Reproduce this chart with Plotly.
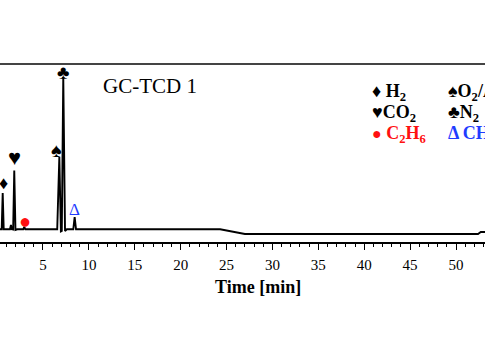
import plotly.graph_objects as go

# Chromatogram trace (time in min, detector signal in arbitrary units)
time = [0.30, 0.50, 0.61, 0.72, 1.40, 1.51, 1.60, 1.75, 1.87, 2.00, 2.20,
        2.85, 2.96, 3.08, 6.55, 6.78, 6.95, 7.05, 7.21, 7.40, 7.60,
        8.30, 8.45, 8.60, 24.3, 27.0, 52.4, 52.7, 53.5]
signal = [12.8, 12.8, 49.0, 12.8, 12.8, 17.0, 12.8, 12.5, 71.5, 12.0, 12.7,
          12.7, 15.0, 12.7, 12.7, 85.0, 10.5, 11.0, 165.0, 11.0, 12.7,
          12.7, 25.0, 12.7, 12.7, 8.0, 8.0, 10.0, 10.0]

# Peak identification
peak_times = [0.61, 1.87, 3.04, 6.78, 7.21, 8.45]
peak_heights = [49.0, 71.5, 15.0, 85.0, 165.0, 25.0]
peak_symbols = ["♦", "♥", "●", "♠", "♣", "Δ"]
peak_colors = ["black", "black", "#ff1010", "black", "black", "#1f3cff"]

legend_col1 = ["♦ <b>H<sub>2</sub></b>", "♥<b>CO<sub>2</sub></b>",
               "<span style='font-size:16px'>●</span> <b>C<sub>2</sub>H<sub>6</sub></b>"]
legend_col2 = ["♠<b>O<sub>2</sub>/Ar</b>", "♣<b>N<sub>2</sub></b>", "<b>Δ CH<sub>4</sub></b>"]
legend_col1_colors = ["black", "black", "#ff1010"]
legend_col2_colors = ["black", "black", "#1f3cff"]

SERIF = "Liberation Serif, Times New Roman, serif"
W, H = 485, 360
TOP, BOT = 64, 242

fig = go.Figure()
fig.add_trace(go.Scatter(x=time, y=signal, mode="lines",
                         line=dict(color="black", width=1.9), hoverinfo="skip"))

offsets = [10, 13, 6, 7, 5, 8]
xshifts = [1, 0, 0, -3, 0, 0]
sizes = [18, 22, 20, 20, 19, 17]
for t, h, s, c, o, xs, fs in zip(peak_times, peak_heights, peak_symbols, peak_colors,
                                 offsets, xshifts, sizes):
    fig.add_annotation(x=t, y=h, xref="x", yref="y", text=s, showarrow=False,
                       yshift=o, xshift=xs, yanchor="middle",
                       font=dict(family=SERIF, size=fs, color=c))

def ypaper(py):
    return (BOT - py) / (BOT - TOP)

rows_y = [92, 113, 134]
for txt, col, py in zip(legend_col1, legend_col1_colors, rows_y):
    fig.add_annotation(x=370 / W, y=ypaper(py), xref="paper", yref="paper", text=txt,
                       showarrow=False, xanchor="left", yanchor="middle",
                       font=dict(family=SERIF, size=18, color=col))
for txt, col, py in zip(legend_col2, legend_col2_colors, rows_y):
    fig.add_annotation(x=446 / W, y=ypaper(py), xref="paper", yref="paper", text=txt,
                       showarrow=False, xanchor="left", yanchor="middle",
                       font=dict(family=SERIF, size=18, color=col))

fig.add_annotation(x=150 / W, y=ypaper(86), xref="paper", yref="paper", text="GC-TCD 1",
                   showarrow=False, xanchor="center", yanchor="middle",
                   font=dict(family=SERIF, size=21, color="black"))
fig.add_annotation(x=258 / W, y=ypaper(287), xref="paper", yref="paper",
                   text="<b>Time [min]</b>", showarrow=False, xanchor="center",
                   yanchor="middle", font=dict(family=SERIF, size=18, color="black"))

fig.add_shape(type="line", xref="paper", yref="paper", x0=0, x1=1, y0=1, y1=1,
              line=dict(color="#444444", width=2))

fig.update_layout(
    width=W, height=H, showlegend=False,
    margin=dict(l=0, r=0, t=TOP, b=H - BOT, pad=0),
    paper_bgcolor="white", plot_bgcolor="white",
    xaxis=dict(range=[0.316, 53.16], tick0=0, dtick=5, showgrid=False, zeroline=False,
               showline=True, linecolor="black", linewidth=1.5,
               ticks="outside", ticklen=6, tickwidth=1.2, tickcolor="black",
               ticklabelstandoff=2,
               minor=dict(dtick=1, ticks="outside", ticklen=3, tickwidth=1, tickcolor="black"),
               tickfont=dict(family=SERIF, size=15, color="black")),
    yaxis=dict(range=[0, BOT - TOP], visible=False),
)

fig.write_html("out.html", config={"displayModeBar": False},
               post_script="document.body.style.margin='0';document.body.style.padding='0';")
